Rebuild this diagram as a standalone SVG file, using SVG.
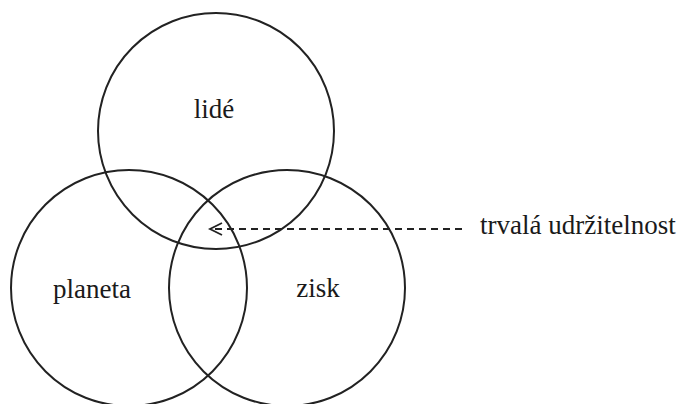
<svg xmlns="http://www.w3.org/2000/svg" width="682" height="404" viewBox="0 0 682 404">
  <defs>
    <style>
      .ring { fill: none; stroke: #222; stroke-width: 2; }
      .label { font-family: "Liberation Serif", "Times New Roman", serif; font-size: 27px; fill: #1a1a1a; }
      .link { fill: none; stroke: #222; stroke-width: 1.8; stroke-dasharray: 7 5; }
      .head { fill: none; stroke: #222; stroke-width: 1.8; }
    </style>
  </defs>
  <rect width="682" height="404" fill="#fff"/>

  <g id="lide">
    <circle class="ring" cx="216" cy="131" r="118"/>
    <text class="label" x="214" y="118" text-anchor="middle">lidé</text>
  </g>

  <g id="planeta">
    <circle class="ring" cx="129" cy="288" r="118"/>
    <text class="label" x="92" y="298" text-anchor="middle">planeta</text>
  </g>

  <g id="zisk">
    <circle class="ring" cx="287" cy="288" r="118"/>
    <text class="label" x="318" y="297" text-anchor="middle">zisk</text>
  </g>

  <g id="trvala-udrzitelnost">
    <text class="label" x="480" y="234">trvalá udržitelnost</text>
  </g>

  <g id="connectors">
    <line class="link" x1="462" y1="229" x2="212" y2="229"/>
    <polyline class="head" points="222,223 210,229 222,235"/>
  </g>
</svg>
